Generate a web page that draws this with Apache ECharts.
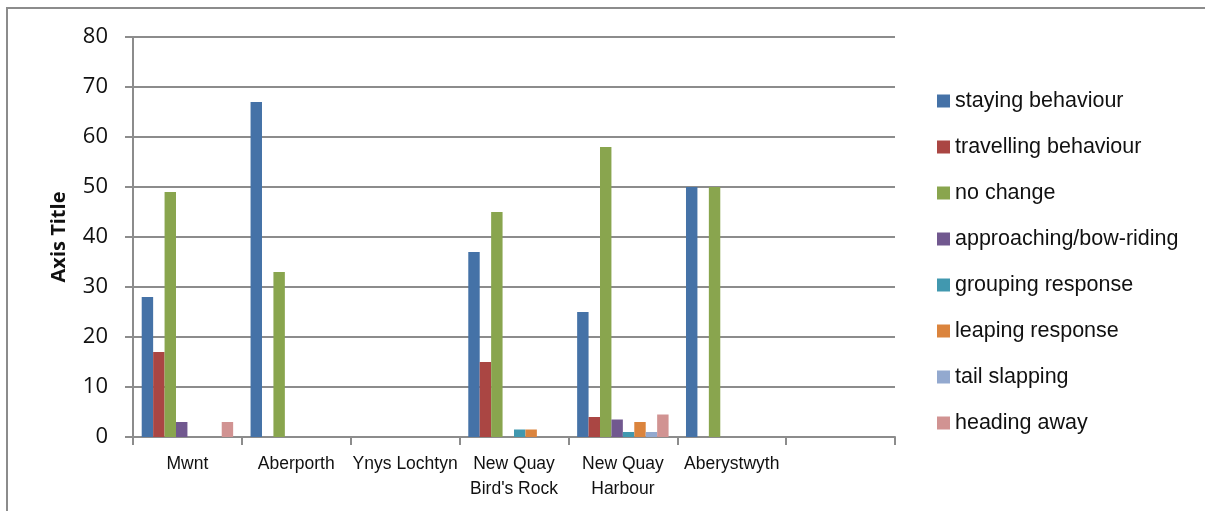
<!DOCTYPE html>
<html>
<head>
<meta charset="utf-8">
<script src="https://cdn.jsdelivr.net/npm/echarts@6/dist/echarts.min.js"></script>
<style>
  html, body { margin: 0; padding: 0; background: #fff; }
  #frame {
    position: absolute; left: 6px; top: 7px; right: 0; bottom: 0;
    border-left: 2px solid #8c8c8c; border-top: 2px solid #8c8c8c;
  }
  #chart { position: absolute; left: 0; top: 0; width: 1205px; height: 511px; }
</style>
</head>
<body>
<div id="frame"></div>
<div id="chart"></div>
<script>
const sites = ['Mwnt', 'Aberporth', 'Ynys Lochtyn', 'New Quay\nBird\'s Rock', 'New Quay\nHarbour', 'Aberystwyth', ''];
const yTicks = [0, 10, 20, 30, 40, 50, 60, 70, 80];

const staying = [28, 67, 0, 37, 25, 50, null];
const travelling = [17, 0, 0, 15, 4, 0, null];
const noChange = [49, 33, 0, 45, 58, 50, null];
const approaching = [3, 0, 0, 0, 3.5, 0, null];
const grouping = [0, 0, 0, 1.5, 1, 0, null];
const leaping = [0, 0, 0, 1.5, 3, 0, null];
const tailSlapping = [0, 0, 0, 0, 1, 0, null];
const headingAway = [3, 0, 0, 0, 4.5, 0, null];

const seriesNames = [
  'staying behaviour', 'travelling behaviour', 'no change', 'approaching/bow-riding',
  'grouping response', 'leaping response', 'tail slapping', 'heading away'
];
const seriesData = [staying, travelling, noChange, approaching, grouping, leaping, tailSlapping, headingAway];
const colors = ['#4572A7', '#AA4643', '#89A54E', '#71588F', '#4198AF', '#DB843D', '#93A9CF', '#D19392'];

const chart = echarts.init(document.getElementById('chart'), null, { renderer: 'canvas' });

chart.setOption({
  animation: false,
  color: colors,
  grid: { left: 133, top: 37, right: 310, bottom: 74, containLabel: false },
  legend: {
    orient: 'vertical',
    left: 937,
    top: 90,
    padding: 0,
    itemWidth: 13,
    itemHeight: 13,
    itemGap: 24,
    icon: 'rect',
    textStyle: { fontFamily: 'Liberation Sans', fontSize: 21.5, color: '#111' },
    data: seriesNames
  },
  xAxis: {
    type: 'category',
    data: sites,
    axisLine: { lineStyle: { color: '#8c8c8c', width: 2 } },
    axisTick: { show: true, length: 8, lineStyle: { color: '#8c8c8c', width: 2 } },
    axisLabel: {
      interval: 0, margin: 15, lineHeight: 25,
      fontFamily: 'Liberation Sans', fontSize: 17.5, color: '#111'
    }
  },
  yAxis: {
    type: 'value',
    min: 0,
    max: yTicks[yTicks.length - 1],
    interval: 10,
    name: 'Axis Title',
    nameLocation: 'middle',
    nameGap: 64,
    nameTextStyle: { fontFamily: 'Open Sans', fontWeight: 'bold', fontSize: 20, color: '#111' },
    axisLine: { show: true, lineStyle: { color: '#8c8c8c', width: 2 } },
    axisTick: { show: true, length: 8, lineStyle: { color: '#8c8c8c', width: 2 } },
    splitLine: { lineStyle: { color: '#8c8c8c', width: 2 } },
    axisLabel: { margin: 25, fontFamily: 'Open Sans', fontSize: 22, color: '#111' }
  },
  series: seriesNames.map((name, i) => ({
    name,
    type: 'bar',
    data: seriesData[i],
    barGap: '0%',
    barCategoryGap: '16%'
  }))
});
</script>
</body>
</html>
